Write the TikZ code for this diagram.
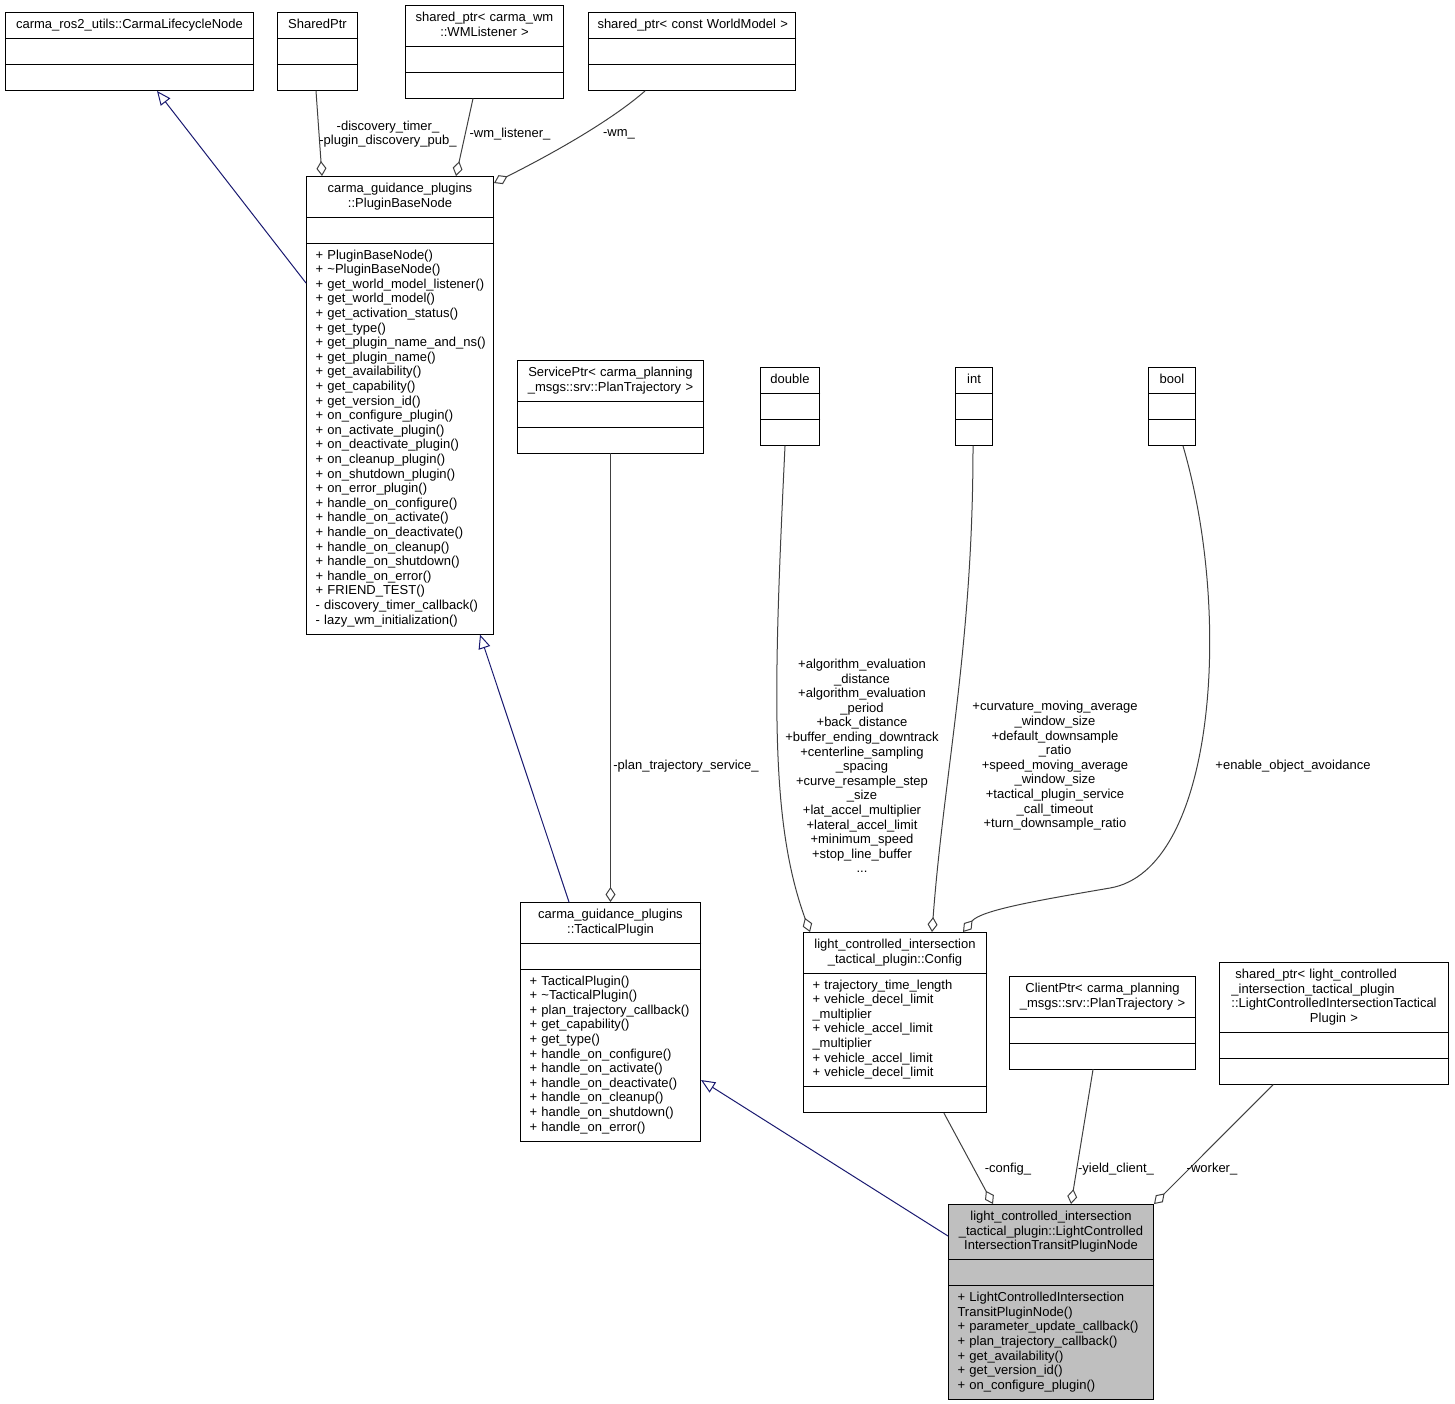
\documentclass[tikz,border=0pt]{standalone}
\usepackage{fontspec}
\setmainfont{Liberation Sans}
\usetikzlibrary{arrows.meta, shapes.multipart}

\definecolor{navyline}{HTML}{191970}
\definecolor{grayline}{HTML}{404040}
\definecolor{grayfill}{HTML}{BFBFBF}

\begin{document}
\begin{tikzpicture}[x=1pt, y=-1pt, line cap=round,
    font=\fontsize{13}{14.6}\selectfont,
    umlclass/.style={draw, line width=1pt, fill=white, anchor=north west,
      rectangle split, rectangle split parts=3,
      inner xsep=9pt, inner ysep=5.2pt, align=center},
    inherit/.style={navyline, line width=1pt, -{Triangle[open, length=14pt, width=12pt]}},
    aggregate/.style={grayline, line width=1pt, -{Diamond[open, length=15pt, width=10pt]}},
    edgelabel/.style={inner sep=0pt, align=center}]

\useasboundingbox (0,0) rectangle (1455,1403);

% Classi in alto
\node[umlclass, text width=230pt] (lcn) at (5,12)
  {\begin{tabular}{@{}c@{}}carma\_ros2\_utils::CarmaLifecycleNode\end{tabular}
   \nodepart{two}\strut\nodepart{three}\strut};
\node[umlclass, text width=62pt] (sptr) at (277,12)
  {\begin{tabular}{@{}c@{}}SharedPtr\end{tabular}
   \nodepart{two}\strut\nodepart{three}\strut};
\node[umlclass, text width=140pt] (wml) at (405,5)
  {\begin{tabular}{@{}c@{}}shared\_ptr< carma\_wm\\::WMListener >\end{tabular}
   \nodepart{two}\strut\nodepart{three}\strut};
\node[umlclass, text width=189pt] (wmod) at (588,12)
  {\begin{tabular}{@{}c@{}}shared\_ptr< const WorldModel >\end{tabular}
   \nodepart{two}\strut\nodepart{three}\strut};

% Nodo base dei plugin
\node[umlclass, text width=169pt] (pbn) at (306,176)
  {\begin{tabular}{@{}c@{}}carma\_guidance\_plugins\\::PluginBaseNode\end{tabular}
   \nodepart{two}\strut
   \nodepart{three}\makebox[\hsize][l]{\begin{tabular}{@{}l@{}}
   + PluginBaseNode()\\
   + \textasciitilde PluginBaseNode()\\
   + get\_world\_model\_listener()\\
   + get\_world\_model()\\
   + get\_activation\_status()\\
   + get\_type()\\
   + get\_plugin\_name\_and\_ns()\\
   + get\_plugin\_name()\\
   + get\_availability()\\
   + get\_capability()\\
   + get\_version\_id()\\
   + on\_configure\_plugin()\\
   + on\_activate\_plugin()\\
   + on\_deactivate\_plugin()\\
   + on\_cleanup\_plugin()\\
   + on\_shutdown\_plugin()\\
   + on\_error\_plugin()\\
   + handle\_on\_configure()\\
   + handle\_on\_activate()\\
   + handle\_on\_deactivate()\\
   + handle\_on\_cleanup()\\
   + handle\_on\_shutdown()\\
   + handle\_on\_error()\\
   + FRIEND\_TEST()\\
   - discovery\_timer\_callback()\\
   - lazy\_wm\_initialization()
   \end{tabular}}};

% Classi al centro
\node[umlclass, text width=168pt] (srv) at (517,360)
  {\begin{tabular}{@{}c@{}}ServicePtr< carma\_planning\\\_msgs::srv::PlanTrajectory >\end{tabular}
   \nodepart{two}\strut\nodepart{three}\strut};
\node[umlclass, text width=41pt] (dbl) at (760,367)
  {\begin{tabular}{@{}c@{}}double\end{tabular}
   \nodepart{two}\strut\nodepart{three}\strut};
\node[umlclass, text width=19pt] (intt) at (955,367)
  {\begin{tabular}{@{}c@{}}int\end{tabular}
   \nodepart{two}\strut\nodepart{three}\strut};
\node[umlclass, text width=29pt] (bool) at (1148,367)
  {\begin{tabular}{@{}c@{}}bool\end{tabular}
   \nodepart{two}\strut\nodepart{three}\strut};

\node[umlclass, text width=162pt] (tac) at (520,902)
  {\begin{tabular}{@{}c@{}}carma\_guidance\_plugins\\::TacticalPlugin\end{tabular}
   \nodepart{two}\strut
   \nodepart{three}\makebox[\hsize][l]{\begin{tabular}{@{}l@{}}
   + TacticalPlugin()\\
   + \textasciitilde TacticalPlugin()\\
   + plan\_trajectory\_callback()\\
   + get\_capability()\\
   + get\_type()\\
   + handle\_on\_configure()\\
   + handle\_on\_activate()\\
   + handle\_on\_deactivate()\\
   + handle\_on\_cleanup()\\
   + handle\_on\_shutdown()\\
   + handle\_on\_error()
   \end{tabular}}};

\node[umlclass, text width=165pt] (cfg) at (803,932)
  {\begin{tabular}{@{}c@{}}light\_controlled\_intersection\\\_tactical\_plugin::Config\end{tabular}
   \nodepart{two}\makebox[\hsize][l]{\begin{tabular}{@{}l@{}}
   + trajectory\_time\_length\\
   + vehicle\_decel\_limit\\
   \_multiplier\\
   + vehicle\_accel\_limit\\
   \_multiplier\\
   + vehicle\_accel\_limit\\
   + vehicle\_decel\_limit
   \end{tabular}}
   \nodepart{three}\strut};

\node[umlclass, text width=168pt] (cli) at (1009,976)
  {\begin{tabular}{@{}c@{}}ClientPtr< carma\_planning\\\_msgs::srv::PlanTrajectory >\end{tabular}
   \nodepart{two}\strut\nodepart{three}\strut};
\node[umlclass, text width=211pt] (wkr) at (1219,962)
  {\begin{tabular}{@{}l@{}}\hspace{4pt}shared\_ptr< light\_controlled\\
   \_intersection\_tactical\_plugin\\
   ::LightControlledIntersectionTactical\\
   \multicolumn{1}{@{}c@{}}{Plugin >}\end{tabular}
   \nodepart{two}\strut\nodepart{three}\strut};

% Classe documentata
\node[umlclass, fill=grayfill, text width=187pt] (lci) at (948,1204)
  {\begin{tabular}{@{}c@{}}light\_controlled\_intersection\\\_tactical\_plugin::LightControlled\\IntersectionTransitPluginNode\end{tabular}
   \nodepart{two}\strut
   \nodepart{three}\makebox[\hsize][l]{\begin{tabular}{@{}l@{}}
   + LightControlledIntersection\\
   TransitPluginNode()\\
   + parameter\_update\_callback()\\
   + plan\_trajectory\_callback()\\
   + get\_availability()\\
   + get\_version\_id()\\
   + on\_configure\_plugin()
   \end{tabular}}};

% Ereditarieta'
\draw[inherit] ([yshift=-107pt]pbn.north west) -- ([xshift=152pt]lcn.south west);
\draw[inherit] ([xshift=49pt]tac.north west) -- ([xshift=174pt]pbn.south west);
\draw[inherit] ([yshift=-32pt]lci.north west) -- ([yshift=-178pt]tac.north east);

% Aggregazioni
\coordinate (boolbend) at (1110,888);
\draw[aggregate] ([xshift=39pt]sptr.south west) -- ([xshift=16pt]pbn.north west);
\draw[aggregate] ([xshift=68pt]wml.south west) -- ([xshift=150pt]pbn.north west);
\draw[aggregate] ([xshift=57pt]wmod.south west) .. controls +(-40,35) and +(40,-20) .. ([yshift=-7pt]pbn.north east);
\draw[aggregate] (srv.south) -- (tac.north);
\draw[aggregate] ([xshift=25pt]dbl.south west) .. controls +(-12,250) and +(-40,-110) .. ([xshift=7pt]cfg.north west);
\draw[aggregate] ([xshift=18pt]intt.south west) .. controls +(0,200) and +(12,-160) .. ([xshift=129pt]cfg.north west);
\draw[aggregate] ([xshift=35pt]bool.south west) .. controls +(50,170) and +(105,-18) .. (boolbend)
  .. controls +(-70,12) and +(18,-22) .. ([xshift=160pt]cfg.north west);
\draw[aggregate] ([xshift=141pt]cfg.south west) -- ([xshift=45pt]lci.north west);
\draw[aggregate] ([xshift=84pt]cli.south west) -- ([xshift=123pt]lci.north west);
\draw[aggregate] ([xshift=54pt]wkr.south west) -- (lci.north east);

% Etichette
\node[edgelabel] (l-sptr) at (388,134) {-discovery\_timer\_\\-plugin\_discovery\_pub\_};
\node[edgelabel] (l-wml) at (510,134) {-wm\_listener\_};
\node[edgelabel] (l-wmod) at (619,134) {-wm\_};
\node[edgelabel] (l-srv) at (686,766) {-plan\_trajectory\_service\_};
\node[edgelabel] (l-dbl) at (862,766)
  {+algorithm\_evaluation\\\_distance\\+algorithm\_evaluation\\\_period\\+back\_distance\\
   +buffer\_ending\_downtrack\\+centerline\_sampling\\\_spacing\\+curve\_resample\_step\\\_size\\
   +lat\_accel\_multiplier\\+lateral\_accel\_limit\\+minimum\_speed\\+stop\_line\_buffer\\...};
\node[edgelabel] (l-intt) at (1055,766)
  {+curvature\_moving\_average\\\_window\_size\\+default\_downsample\\\_ratio\\
   +speed\_moving\_average\\\_window\_size\\+tactical\_plugin\_service\\\_call\_timeout\\
   +turn\_downsample\_ratio};
\node[edgelabel] (l-bool) at (1293,766) {+enable\_object\_avoidance};
\node[edgelabel] (l-cfg) at (1008,1169) {-config\_};
\node[edgelabel] (l-cli) at (1116,1169) {-yield\_client\_};
\node[edgelabel] (l-wkr) at (1212,1169) {-worker\_};

\end{tikzpicture}
\end{document}
